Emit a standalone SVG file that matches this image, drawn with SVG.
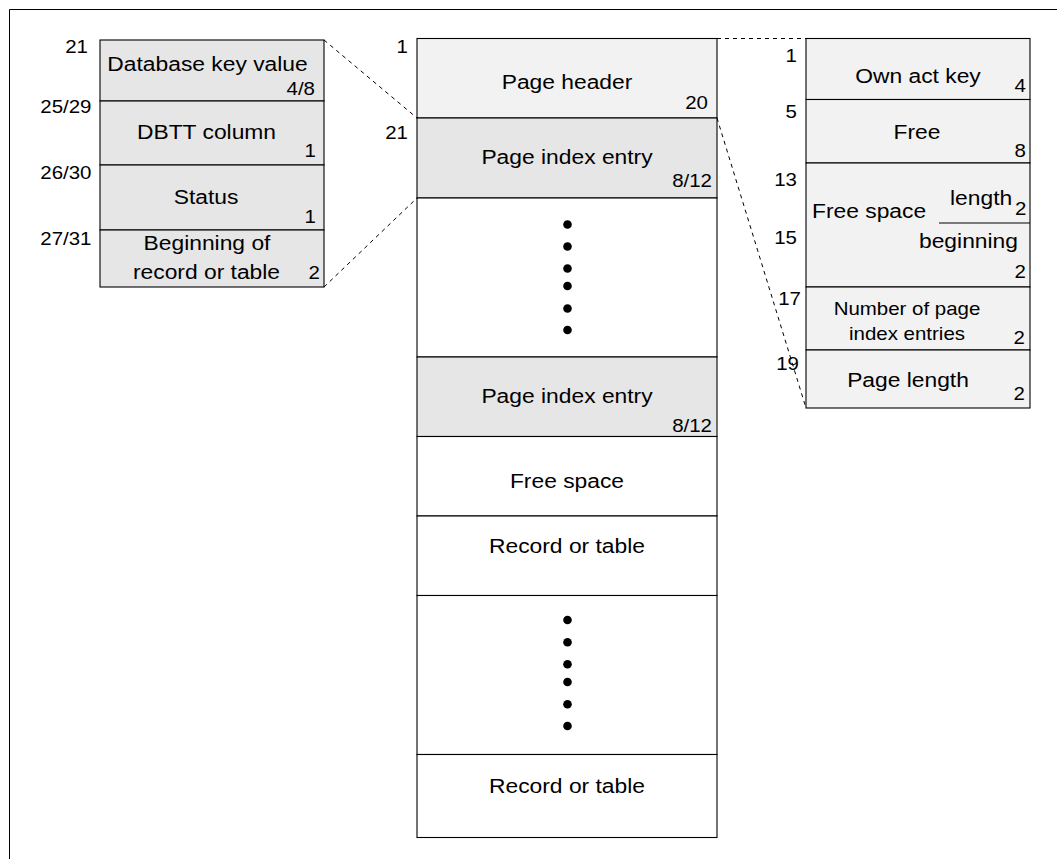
<svg xmlns="http://www.w3.org/2000/svg" width="1057" height="859" viewBox="0 0 1057 859">
<style>
.bg{fill:#fff}
.frame{stroke:#000;stroke-width:1;fill:none}
.cell{stroke:#000;stroke-width:1.1}
.dark{fill:#e6e6e6}
.light{fill:#f2f2f2}
.white{fill:#fff}
.sep{stroke:#000;stroke-width:1.1;fill:none}
.dash{stroke:#000;stroke-width:1;stroke-dasharray:4 4;fill:none}
text{font-family:"Liberation Sans",Arial,Helvetica,sans-serif;fill:#000}
.t{font-size:19.5px}
.s{font-size:17.5px}
.m{text-anchor:middle}
.e{text-anchor:end}
.dot{fill:#000}
</style>
<rect class="bg" x="0" y="0" width="1057" height="859"/>
<path class="frame" d="M9.5,859 V9.5 H1057"/>

<g id="connectors">
<line class="dash" x1="324" y1="40" x2="417" y2="118"/>
<line class="dash" x1="324" y1="287" x2="417" y2="198"/>
<line class="dash" x1="717" y1="38.5" x2="806" y2="38.5"/>
<line class="dash" x1="717" y1="118" x2="806" y2="408"/>
</g>

<g id="index-entry-detail">
<g id="dbkey">
<rect class="cell dark" x="100" y="40" width="224" height="61"/>
<text class="t m" transform="translate(207.5,70.5) scale(1.17 1)">Database key value</text>
<text class="s e" transform="translate(315,95) scale(1.17 1)">4/8</text>
<text class="s e" transform="translate(88,53) scale(1.17 1)">21</text>
</g>
<g id="dbtt">
<rect class="cell dark" x="100" y="101" width="224" height="64"/>
<text class="t m" transform="translate(206.5,139) scale(1.17 1)">DBTT column</text>
<text class="s e" transform="translate(316,157) scale(1.17 1)">1</text>
<text class="s e" transform="translate(91.5,113) scale(1.17 1)">25/29</text>
</g>
<g id="status">
<rect class="cell dark" x="100" y="165" width="224" height="65"/>
<text class="t m" transform="translate(206,204) scale(1.17 1)">Status</text>
<text class="s e" transform="translate(316,223) scale(1.17 1)">1</text>
<text class="s e" transform="translate(91.5,179) scale(1.17 1)">26/30</text>
</g>
<g id="beginning">
<rect class="cell dark" x="100" y="230" width="224" height="57"/>
<text class="t m" transform="translate(207,250) scale(1.17 1)">Beginning of</text>
<text class="t m" transform="translate(206.5,279) scale(1.17 1)">record or table</text>
<text class="s e" transform="translate(320,279) scale(1.17 1)">2</text>
<text class="s e" transform="translate(91.5,245) scale(1.17 1)">27/31</text>
</g>
</g>

<g id="page">
<g id="page-header">
<rect class="cell light" x="417" y="38.5" width="300" height="79.5"/>
<text class="t m" transform="translate(567,89) scale(1.17 1)">Page header</text>
<text class="s e" transform="translate(708,109) scale(1.17 1)">20</text>
<text class="s e" transform="translate(408,53) scale(1.17 1)">1</text>
</g>
<g id="page-index-entry-1">
<rect class="cell dark" x="417" y="118" width="300" height="80"/>
<text class="t m" transform="translate(567,164) scale(1.17 1)">Page index entry</text>
<text class="s e" transform="translate(712,187) scale(1.17 1)">8/12</text>
<text class="s e" transform="translate(408,139) scale(1.17 1)">21</text>
</g>
<g id="ellipsis-1">
<rect class="cell white" x="417" y="198" width="300" height="159"/>
<circle class="dot" cx="567.5" cy="224.5" r="4.3"/>
<circle class="dot" cx="567.5" cy="246.5" r="4.3"/>
<circle class="dot" cx="567.5" cy="268.5" r="4.3"/>
<circle class="dot" cx="567.5" cy="286" r="4.3"/>
<circle class="dot" cx="567.5" cy="308.5" r="4.3"/>
<circle class="dot" cx="567.5" cy="330" r="4.3"/>
</g>
<g id="page-index-entry-2">
<rect class="cell dark" x="417" y="357" width="300" height="79.5"/>
<text class="t m" transform="translate(567,403) scale(1.17 1)">Page index entry</text>
<text class="s e" transform="translate(712,432) scale(1.17 1)">8/12</text>
</g>
<g id="free-space">
<rect class="cell white" x="417" y="436.5" width="300" height="79.5"/>
<text class="t m" transform="translate(567,488) scale(1.17 1)">Free space</text>
</g>
<g id="record-1">
<rect class="cell white" x="417" y="516" width="300" height="79.5"/>
<text class="t m" transform="translate(567,553) scale(1.17 1)">Record or table</text>
</g>
<g id="ellipsis-2">
<rect class="cell white" x="417" y="595.5" width="300" height="159"/>
<circle class="dot" cx="567.5" cy="620" r="4.3"/>
<circle class="dot" cx="567.5" cy="642.3" r="4.3"/>
<circle class="dot" cx="567.5" cy="664.3" r="4.3"/>
<circle class="dot" cx="567.5" cy="682" r="4.3"/>
<circle class="dot" cx="567.5" cy="704.3" r="4.3"/>
<circle class="dot" cx="567.5" cy="726" r="4.3"/>
</g>
<g id="record-2">
<rect class="cell white" x="417" y="754.5" width="300" height="83"/>
<text class="t m" transform="translate(567,793) scale(1.17 1)">Record or table</text>
</g>
</g>

<g id="page-header-detail">
<g id="own-act-key">
<rect class="cell light" x="806" y="38.5" width="224" height="61"/>
<text class="t m" transform="translate(918,83) scale(1.17 1)">Own act key</text>
<text class="s e" transform="translate(1026,92) scale(1.17 1)">4</text>
<text class="s e" transform="translate(797,62) scale(1.17 1)">1</text>
</g>
<g id="free">
<rect class="cell light" x="806" y="99.5" width="224" height="63.5"/>
<text class="t m" transform="translate(917,139) scale(1.17 1)">Free</text>
<text class="s e" transform="translate(1026,157) scale(1.17 1)">8</text>
<text class="s e" transform="translate(797,118) scale(1.17 1)">5</text>
</g>
<g id="free-space-ptr">
<rect class="cell light" x="806" y="163" width="224" height="124"/>
<line class="sep" x1="939" y1="223" x2="1030" y2="223"/>
<text class="t" transform="translate(812,218) scale(1.17 1)">Free space</text>
<text class="t" transform="translate(950,205) scale(1.17 1)">length</text>
<text class="s" transform="translate(1015,215) scale(1.17 1)">2</text>
<text class="t" transform="translate(919,248) scale(1.17 1)">beginning</text>
<text class="s e" transform="translate(1026,278) scale(1.17 1)">2</text>
<text class="s e" transform="translate(797,186) scale(1.17 1)">13</text>
<text class="s e" transform="translate(797,244) scale(1.17 1)">15</text>
</g>
<g id="num-entries">
<rect class="cell light" x="806" y="287" width="224" height="63"/>
<text class="s m" transform="translate(907,315) scale(1.17 1)">Number of page</text>
<text class="s m" transform="translate(907,340) scale(1.17 1)">index entries</text>
<text class="s e" transform="translate(1025,344) scale(1.17 1)">2</text>
<text class="s e" transform="translate(801,305) scale(1.17 1)">17</text>
</g>
<g id="page-length">
<rect class="cell light" x="806" y="350" width="224" height="58"/>
<text class="t m" transform="translate(908,387) scale(1.17 1)">Page length</text>
<text class="s e" transform="translate(1025,400) scale(1.17 1)">2</text>
<text class="s e" transform="translate(799,370) scale(1.17 1)">19</text>
</g>
</g>
</svg>
